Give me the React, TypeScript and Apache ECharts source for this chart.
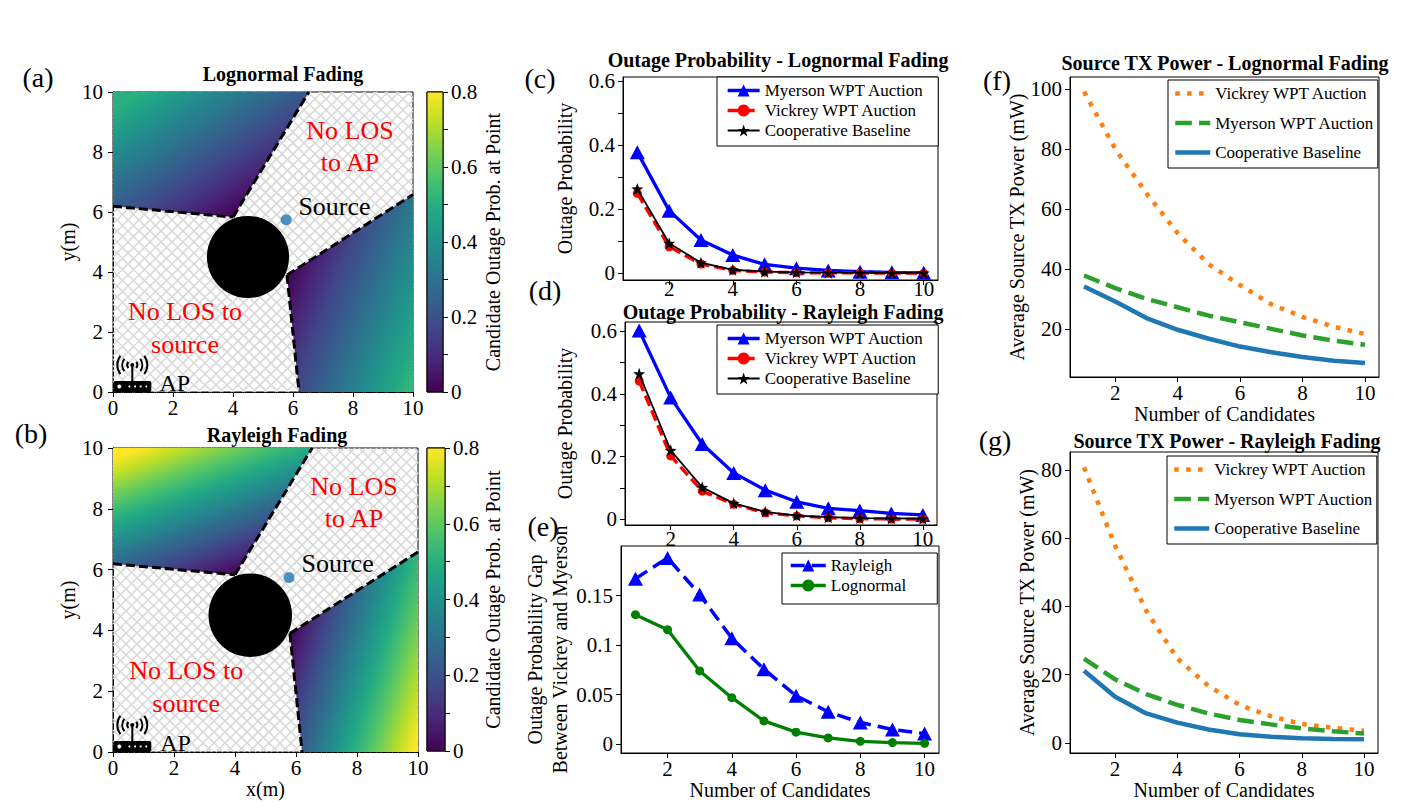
import React, { useEffect, useRef } from "react";
import * as echarts from "echarts";

const SERIF = "'Liberation Serif', 'Times New Roman', serif";

// ---------------- data ----------------
const CANDIDATES = [1, 2, 3, 4, 5, 6, 7, 8, 9, 10];

// (c) outage probability, lognormal fading
const LOGN_MYERSON = [0.379, 0.196, 0.104, 0.057, 0.028, 0.016, 0.009, 0.005, 0.003, 0.002];
const LOGN_VICKREY = [0.25, 0.083, 0.029, 0.009, 0.004, 0.002, 0.001, 0.001, 0.0005, 0.0003];
const LOGN_COOP = [0.264, 0.094, 0.033, 0.011, 0.005, 0.003, 0.002, 0.001, 0.001, 0.001];

// (d) outage probability, Rayleigh fading
const RAY_MYERSON = [0.602, 0.388, 0.24, 0.148, 0.093, 0.056, 0.035, 0.028, 0.019, 0.014];
const RAY_VICKREY = [0.441, 0.202, 0.09, 0.048, 0.021, 0.011, 0.005, 0.002, 0.001, 0.001];
const RAY_COOP = [0.464, 0.22, 0.102, 0.051, 0.024, 0.012, 0.007, 0.004, 0.003, 0.002];

// (e) gap between Vickrey and Myerson
const GAP_RAYLEIGH = [0.167, 0.188, 0.151, 0.107, 0.0757, 0.049, 0.0328, 0.022, 0.0149, 0.0108];
const GAP_LOGNORMAL = [0.1307, 0.1155, 0.074, 0.047, 0.0236, 0.0122, 0.0064, 0.003, 0.0017, 0.001];

// (f) source TX power, lognormal
const PW_LOGN_VICKREY = [99.1, 80.0, 65.2, 51.9, 41.5, 34.6, 28.2, 24.0, 20.7, 18.3];
const PW_LOGN_MYERSON = [37.8, 33.6, 30.0, 27.2, 24.4, 22.2, 20.0, 17.8, 16.1, 14.7];
const PW_LOGN_COOP = [34.1, 29.1, 23.6, 19.7, 16.7, 14.1, 12.2, 10.6, 9.4, 8.6];

// (g) source TX power, Rayleigh
const PW_RAY_VICKREY = [80.8, 57.8, 38.7, 24.7, 16.7, 11.1, 7.8, 5.5, 4.4, 3.5];
const PW_RAY_MYERSON = [24.7, 18.6, 14.3, 11.1, 8.6, 6.7, 5.4, 4.2, 3.4, 2.7];
const PW_RAY_COOP = [21.1, 13.5, 8.6, 5.9, 3.9, 2.5, 1.8, 1.3, 1.1, 1.0];

// tick labels
const X_TICKS = [2, 4, 6, 8, 10];
const OUTAGE_TICKS = [0, 0.2, 0.4, 0.6];
const OUTAGE_TICK_MARKS = [0, 0.1, 0.2, 0.3, 0.4, 0.5, 0.6];
const GAP_TICKS = [0, 0.05, 0.1, 0.15];
const POWER_LOGN_TICKS = [20, 40, 60, 80, 100];
const POWER_RAY_TICKS = [0, 20, 40, 60, 80];

// map geometry (metres)
const OBSTACLE_CENTER = [4.5, 4.5];
const OBSTACLE_RADIUS = 1.37;
const SOURCE_POS = [[5.77, 5.74]];
const AP_ICON_POS = [0.01, 0];
const BOUNDARIES = [
  [[0, 6.19], [4.0, 5.83]],
  [[4.0, 5.83], [6.53, 10]],
  [[5.8, 3.9], [10, 6.58]],
  [[5.8, 3.9], [6.2, 0]],
];
const REGION_UL = [[0, 10], [6.53, 10], [4.0, 5.83], [0, 6.19]];
const REGION_LR = [[5.8, 3.9], [10, 6.58], [10, 0], [6.2, 0]];
const REGIONS = [REGION_UL, REGION_LR];
// candidate outage probability: 0 at the shadow corner, rising to `value` at `to`
const FIELD_LOGN = [
  { from: [4.0, 5.83], to: [1.24, 10.15], value: 0.5 },
  { from: [5.8, 3.9], to: [10.64, 2.1], value: 0.53 },
];
const FIELD_RAY = [
  { from: [4.0, 5.83], to: [2.27, 10.49], value: 0.8 },
  { from: [5.8, 3.9], to: [10.58, 2.44], value: 0.8 },
];
const MAP_TEXTS = [
  { text: "No LOS\nto AP", pos: [7.9, 8.2], color: "#ff0000", align: "center", size: 26, lh: 32 },
  { text: "No LOS to\nsource", pos: [2.4, 2.15], color: "#ff0000", align: "center", size: 26, lh: 33 },
  { text: "Source", pos: [6.18, 6.2], color: "#000000", align: "left", size: 26, lh: 26 },
  { text: "AP", pos: [1.55, 0.3], color: "#000000", align: "left", size: 24, lh: 24 },
];

const VIRIDIS = ["#440154", "#482475", "#414487", "#355f8d", "#2a788e", "#21918c", "#22a884", "#44bf70", "#7ad151", "#bddf26", "#fde725"];
const CBAR_MAX = 0.8;

// ---------------- helpers ----------------
function hexToRgb(h: string) {
  const n = parseInt(h.slice(1), 16);
  return [(n >> 16) & 255, (n >> 8) & 255, n & 255];
}
function viridis(t: number) {
  t = Math.max(0, Math.min(1, t));
  const s = t * (VIRIDIS.length - 1);
  const i = Math.min(Math.floor(s), VIRIDIS.length - 2);
  const f = s - i;
  const a = hexToRgb(VIRIDIS[i]);
  const b = hexToRgb(VIRIDIS[i + 1]);
  const c = a.map((v, k) => Math.round(v + (b[k] - v) * f));
  return `rgb(${c[0]},${c[1]},${c[2]})`;
}
const pairs = (ys: number[]) => CANDIDATES.map((x, i) => [x, ys[i]]);
const fmt = (v: number) => (v === 0 ? "0" : String(+v.toFixed(3)));

const STAR = "path://M0,-10 L2.35,-3.24 L9.51,-3.09 L3.8,1.24 L5.88,8.09 L0,4 L-5.88,8.09 L-3.8,1.24 L-9.51,-3.09 L-2.35,-3.24 Z";
const TICK_FONT = 21;

function axisBase(gridIndex: number) {
  return {
    gridIndex,
    type: "value",
    splitLine: { show: false },
    axisLine: { show: true, onZero: false, lineStyle: { color: "#000", width: 1 } },
    axisTick: { show: true, inside: false, length: 5, lineStyle: { color: "#000", width: 1 } },
    axisLabel: { show: true, color: "#000", fontSize: TICK_FONT, fontFamily: SERIF, margin: 8, formatter: fmt },
    nameTextStyle: { color: "#000", fontSize: 20, fontFamily: SERIF },
  } as any;
}

function mapXAxis(gridIndex: number, name?: string) {
  const a = axisBase(gridIndex);
  a.min = 0; a.max = 10; a.interval = 2;
  a.axisLabel.margin = 5;
  if (name) { a.name = name; a.nameLocation = "middle"; a.nameGap = 21; }
  return a;
}
function mapYAxis(gridIndex: number) {
  const a = axisBase(gridIndex);
  a.min = 0; a.max = 10; a.interval = 2;
  a.axisLabel.margin = 10;
  a.name = "y(m)"; a.nameLocation = "middle"; a.nameGap = 26; a.nameRotate = 90;
  return a;
}
function cbarXAxis(gridIndex: number) {
  return { gridIndex, type: "value", min: 0, max: 1, show: false };
}
function cbarYAxis(gridIndex: number, gap: number) {
  const a = axisBase(gridIndex);
  a.position = "right";
  a.min = 0; a.max = CBAR_MAX; a.interval = 0.2;
  a.axisLine.show = false;
  a.minorTick = { show: true, splitNumber: 2, length: 5, lineStyle: { color: "#000" } };
  a.minorSplitLine = { show: false };
  a.name = "Candidate Outage Prob. at Point"; a.nameLocation = "middle"; a.nameGap = gap; a.nameRotate = 90;
  return a;
}
function candXAxis(gridIndex: number, margin: number, name?: string, gap?: number) {
  const a = axisBase(gridIndex);
  a.min = 0.55; a.max = 10.45;
  a.axisLabel.customValues = X_TICKS;
  a.axisTick.customValues = X_TICKS;
  a.axisLabel.margin = margin;
  if (name) { a.name = name; a.nameLocation = "middle"; a.nameGap = gap; }
  return a;
}
function valYAxis(gridIndex: number, min: number, max: number, labels: number[], ticks: number[], name: string, gap: number) {
  const a = axisBase(gridIndex);
  a.min = min; a.max = max;
  a.axisLabel.customValues = labels;
  a.axisTick.customValues = ticks;
  a.name = name; a.nameLocation = "middle"; a.nameGap = gap; a.nameRotate = 90;
  return a;
}

function mapSeries(ax: number, field: any[]) {
  const base = { type: "custom", coordinateSystem: "cartesian2d", xAxisIndex: ax, yAxisIndex: ax, silent: true };
  return [
    {
      ...base, z: 1, data: [[0, 0]],
      renderItem: (params: any) => {
        const cs = params.coordSys;
        const W = cs.width, H = cs.height, step = 11;
        const st = { stroke: "#d9d9d9", lineWidth: 1.6 };
        const children: any[] = [];
        for (let k = step; k < W + H; k += step) {
          const u1 = Math.max(0, k - H), u2 = Math.min(W, k);
          children.push({ type: "line", shape: { x1: cs.x + u1, y1: cs.y + (k - u1), x2: cs.x + u2, y2: cs.y + (k - u2) }, style: st });
        }
        for (let k = -H + step; k < W; k += step) {
          const u1 = Math.max(0, k), u2 = Math.min(W, H + k);
          children.push({ type: "line", shape: { x1: cs.x + u1, y1: cs.y + (u1 - k), x2: cs.x + u2, y2: cs.y + (u2 - k) }, style: st });
        }
        return { type: "group", children };
      },
    },
    {
      ...base, z: 2, data: REGIONS.map((_, i) => [i, 0]),
      renderItem: (params: any, api: any) => {
        const i = params.dataIndex;
        const pts = REGIONS[i].map((p) => api.coord(p));
        const g = field[i];
        const a = api.coord(g.from), b = api.coord(g.to);
        const stops = [];
        for (let k = 0; k <= 20; k++) {
          const f = k / 20;
          stops.push({ offset: f, color: viridis((f * g.value) / CBAR_MAX) });
        }
        return {
          type: "polygon",
          shape: { points: pts },
          style: { fill: new echarts.graphic.LinearGradient(a[0], a[1], b[0], b[1], stops, true), stroke: null },
        };
      },
    },
    {
      ...base, z: 3, data: BOUNDARIES.map((_, i) => [i, 0]),
      renderItem: (params: any, api: any) => {
        const seg = BOUNDARIES[params.dataIndex];
        return {
          type: "polyline",
          shape: { points: seg.map((p) => api.coord(p)) },
          style: { stroke: "#000", lineWidth: 3, lineDash: [9, 4], fill: null },
        };
      },
    },
    {
      ...base, z: 4, data: [[0, 0]],
      renderItem: (_params: any, api: any) => {
        const c = api.coord(OBSTACLE_CENTER);
        const r = api.size([OBSTACLE_RADIUS, 0])[0];
        return { type: "circle", shape: { cx: c[0], cy: c[1], r }, style: { fill: "#000" } };
      },
    },
    {
      ...base, z: 6, data: [[0, 0]],
      renderItem: (_params: any, api: any) => {
        const o = api.coord(AP_ICON_POS);
        const ox = o[0], oy = o[1];
        const ax = ox + 19, ay = oy - 27;
        const children: any[] = [
          { type: "rect", shape: { x: ox, y: oy - 11, width: 38, height: 11, r: 2 }, style: { fill: "#000" } },
          { type: "circle", shape: { cx: ox + 6, cy: oy - 5.5, r: 2 }, style: { fill: "#fff" } },
          ...[16, 21.7, 27.4, 33].map((dx) => ({ type: "circle", shape: { cx: ox + dx, cy: oy - 5.5, r: 1 }, style: { fill: "#fff" } })),
          { type: "line", shape: { x1: ax, y1: oy - 11, x2: ax, y2: ay }, style: { stroke: "#000", lineWidth: 2 } },
          { type: "circle", shape: { cx: ax, cy: ay, r: 2 }, style: { fill: "#000" } },
        ];
        [5, 10, 15].forEach((r) => {
          children.push({ type: "arc", shape: { cx: ax, cy: ay, r, startAngle: Math.PI - 0.65, endAngle: Math.PI + 0.65, clockwise: true }, style: { stroke: "#000", lineWidth: 2, fill: null } });
          children.push({ type: "arc", shape: { cx: ax, cy: ay, r, startAngle: -0.65, endAngle: 0.65, clockwise: true }, style: { stroke: "#000", lineWidth: 2, fill: null } });
        });
        MAP_TEXTS.forEach((t) => {
          const p = api.coord(t.pos);
          children.push({
            type: "text", x: p[0], y: p[1],
            style: { text: t.text, fill: t.color, font: `${t.size}px ${SERIF}`, align: t.align, verticalAlign: "middle", lineHeight: t.lh },
          });
        });
        return { type: "group", children };
      },
    },
    {
      type: "scatter", xAxisIndex: ax, yAxisIndex: ax, z: 5, silent: true,
      data: SOURCE_POS, symbol: "circle", symbolSize: 11, itemStyle: { color: "#1f77b4" },
    },
  ];
}

function cbarSeries(ax: number) {
  return {
    type: "custom", coordinateSystem: "cartesian2d", xAxisIndex: ax, yAxisIndex: ax, silent: true, data: [[0, 0]],
    renderItem: (_params: any, api: any) => {
      const p0 = api.coord([0, 0]);
      const p1 = api.coord([1, CBAR_MAX]);
      const stops = VIRIDIS.map((c, i) => ({ offset: i / (VIRIDIS.length - 1), color: c }));
      return {
        type: "rect",
        shape: { x: p0[0], y: p1[1], width: p1[0] - p0[0], height: p0[1] - p1[1] },
        style: { fill: new echarts.graphic.LinearGradient(0, 1, 0, 0, stops), stroke: "#000", lineWidth: 1 },
      };
    },
  };
}

function outageSeries(ax: number, prefix: string, my: number[], vi: number[], co: number[]) {
  return [
    {
      name: `${prefix}:Myerson WPT Auction`, type: "line", xAxisIndex: ax, yAxisIndex: ax, data: pairs(my),
      symbol: "triangle", symbolSize: [15, 14], showSymbol: true,
      lineStyle: { color: "#0000ff", width: 3.3 }, itemStyle: { color: "#0000ff" }, z: 2,
    },
    {
      name: `${prefix}:Vickrey WPT Auction`, type: "line", xAxisIndex: ax, yAxisIndex: ax, data: pairs(vi),
      symbol: "circle", symbolSize: 9,
      lineStyle: { color: "#ff0000", width: 3.3, type: [11, 5] }, itemStyle: { color: "#ff0000" }, z: 3,
    },
    {
      name: `${prefix}:Cooperative Baseline`, type: "line", xAxisIndex: ax, yAxisIndex: ax, data: pairs(co),
      symbol: STAR, symbolSize: 12,
      lineStyle: { color: "#000000", width: 1.8 }, itemStyle: { color: "#000000" }, z: 4,
    },
  ];
}

function powerSeries(ax: number, prefix: string, vi: number[], my: number[], co: number[]) {
  return [
    {
      name: `${prefix}:Vickrey WPT Auction`, type: "line", xAxisIndex: ax, yAxisIndex: ax, data: pairs(vi),
      symbol: "none", lineStyle: { color: "#ff7f0e", width: 4.5, type: [4.5, 7.4], cap: "butt" }, itemStyle: { color: "#ff7f0e" },
    },
    {
      name: `${prefix}:Myerson WPT Auction`, type: "line", xAxisIndex: ax, yAxisIndex: ax, data: pairs(my),
      symbol: "none", lineStyle: { color: "#2ca02c", width: 4.5, type: [16.6, 7.2], cap: "butt" }, itemStyle: { color: "#2ca02c" },
    },
    {
      name: `${prefix}:Cooperative Baseline`, type: "line", xAxisIndex: ax, yAxisIndex: ax, data: pairs(co),
      symbol: "none", lineStyle: { color: "#1f77b4", width: 4.5 }, itemStyle: { color: "#1f77b4" },
    },
  ];
}

const legendBase = {
  orient: "vertical",
  align: "left",
  selectedMode: false,
  backgroundColor: "#fff",
  borderColor: "#000",
  borderWidth: 1,
  borderRadius: 0,
  textStyle: { color: "#000", fontSize: 17, fontFamily: SERIF, lineHeight: 19 },
  formatter: (n: string) => n.slice(2),
};

function titleText(text: string, x: number, y: number) {
  return { type: "text", x, y, silent: true, style: { text, fill: "#000", font: `bold 20px ${SERIF}`, align: "center", verticalAlign: "middle" } };
}
function panelLabel(text: string, x: number, y: number) {
  return { type: "text", x, y, silent: true, style: { text, fill: "#000", font: `28px ${SERIF}`, align: "center", verticalAlign: "middle" } };
}

function buildOption() {
  const gridBase = { show: true, borderColor: "#000", borderWidth: 1, backgroundColor: "transparent", containLabel: false, outerBoundsMode: "none" };
  const gapAxis = valYAxis(6, -0.0088, 0.2, GAP_TICKS, GAP_TICKS, "Outage Probability Gap\nBetween Vickrey and Myerson", 27);
  gapAxis.nameTextStyle.lineHeight = 25;
  const cX = candXAxis(4, 1);
  cX.axisLabel.lineHeight = 16;
  return {
    animation: false,
    backgroundColor: "#ffffff",
    grid: [
      { ...gridBase, left: 113, top: 92, width: 300, height: 300 },
      { ...gridBase, left: 427, top: 92, width: 16, height: 300 },
      { ...gridBase, left: 113, top: 448, width: 305, height: 304 },
      { ...gridBase, left: 427, top: 448, width: 18, height: 303 },
      { ...gridBase, left: 623, top: 77, width: 315, height: 203 },
      { ...gridBase, left: 625, top: 322, width: 312, height: 203 },
      { ...gridBase, left: 621, top: 546, width: 318, height: 207 },
      { ...gridBase, left: 1070, top: 77, width: 309, height: 300 },
      { ...gridBase, left: 1070, top: 452, width: 308, height: 301 },
    ],
    xAxis: [
      mapXAxis(0),
      cbarXAxis(1),
      mapXAxis(2, "x(m)"),
      cbarXAxis(3),
      cX,
      candXAxis(5, 3),
      candXAxis(6, 5, "Number of Candidates", 22),
      candXAxis(7, 5, "Number of Candidates", 23),
      candXAxis(8, 5, "Number of Candidates", 27),
    ],
    yAxis: [
      mapYAxis(0),
      cbarYAxis(1, 40),
      mapYAxis(2),
      cbarYAxis(3, 38),
      valYAxis(4, -0.021, 0.614, OUTAGE_TICKS, OUTAGE_TICK_MARKS, "Outage Probability", 48),
      valYAxis(5, -0.018, 0.629, OUTAGE_TICKS, OUTAGE_TICK_MARKS, "Outage Probability", 50),
      gapAxis,
      valYAxis(7, 3.95, 104, POWER_LOGN_TICKS, POWER_LOGN_TICKS, "Average Source TX Power (mW)", 31),
      valYAxis(8, -3, 85.3, POWER_RAY_TICKS, POWER_RAY_TICKS, "Average Source TX Power (mW)", 31),
    ],
    legend: [
      {
        ...legendBase, left: 717, top: 77, padding: [4, 14, 6, 9], itemGap: 1, itemWidth: 32, itemHeight: 15,
        data: [
          { name: "c:Myerson WPT Auction", lineStyle: { width: 3.3 } },
          { name: "c:Vickrey WPT Auction", lineStyle: { width: 3.3 } },
          { name: "c:Cooperative Baseline", lineStyle: { width: 1.8 } },
        ],
      },
      {
        ...legendBase, left: 717, top: 325, padding: [4, 14, 6, 9], itemGap: 1, itemWidth: 32, itemHeight: 15,
        data: [
          { name: "d:Myerson WPT Auction", lineStyle: { width: 3.3 } },
          { name: "d:Vickrey WPT Auction", lineStyle: { width: 3.3 } },
          { name: "d:Cooperative Baseline", lineStyle: { width: 1.8 } },
        ],
      },
      {
        ...legendBase, left: 782, top: 553, padding: [3, 31, 9, 7], itemGap: 1, itemWidth: 35, itemHeight: 15,
        data: [
          { name: "e:Rayleigh", lineStyle: { width: 3.5 } },
          { name: "e:Lognormal", lineStyle: { width: 3.3 } },
        ],
      },
      {
        ...legendBase, left: 1168, top: 80, padding: [4, 3, 6, 5], itemGap: 10.5, itemWidth: 35, itemHeight: 14,
        itemStyle: { opacity: 0 },
        data: [
          { name: "f:Vickrey WPT Auction", lineStyle: { width: 4.5 } },
          { name: "f:Myerson WPT Auction", lineStyle: { width: 4.5 } },
          { name: "f:Cooperative Baseline", lineStyle: { width: 4.5 } },
        ],
      },
      {
        ...legendBase, left: 1167, top: 456, padding: [4, 3, 6, 5], itemGap: 10.5, itemWidth: 35, itemHeight: 14,
        itemStyle: { opacity: 0 },
        data: [
          { name: "g:Vickrey WPT Auction", lineStyle: { width: 4.5 } },
          { name: "g:Myerson WPT Auction", lineStyle: { width: 4.5 } },
          { name: "g:Cooperative Baseline", lineStyle: { width: 4.5 } },
        ],
      },
    ],
    series: [
      ...mapSeries(0, FIELD_LOGN),
      cbarSeries(1),
      ...mapSeries(2, FIELD_RAY),
      cbarSeries(3),
      ...outageSeries(4, "c", LOGN_MYERSON, LOGN_VICKREY, LOGN_COOP),
      ...outageSeries(5, "d", RAY_MYERSON, RAY_VICKREY, RAY_COOP),
      {
        name: "e:Rayleigh", type: "line", xAxisIndex: 6, yAxisIndex: 6, data: pairs(GAP_RAYLEIGH),
        symbol: "triangle", symbolSize: [15, 14],
        lineStyle: { color: "#0000ff", width: 3.5, type: [14, 7] }, itemStyle: { color: "#0000ff" },
      },
      {
        name: "e:Lognormal", type: "line", xAxisIndex: 6, yAxisIndex: 6, data: pairs(GAP_LOGNORMAL),
        symbol: "circle", symbolSize: 9,
        lineStyle: { color: "#008000", width: 3.3 }, itemStyle: { color: "#008000" },
      },
      ...powerSeries(7, "f", PW_LOGN_VICKREY, PW_LOGN_MYERSON, PW_LOGN_COOP),
      ...powerSeries(8, "g", PW_RAY_VICKREY, PW_RAY_MYERSON, PW_RAY_COOP),
    ],
    graphic: [
      titleText("Lognormal Fading", 283, 74),
      titleText("Rayleigh Fading", 277, 435),
      titleText("Outage Probability - Lognormal Fading", 778, 60),
      titleText("Outage Probability - Rayleigh Fading", 783, 312),
      titleText("Source TX Power - Lognormal Fading", 1225, 63),
      titleText("Source TX Power - Rayleigh Fading", 1227, 441),
      panelLabel("(a)", 38, 77),
      panelLabel("(b)", 31, 433),
      panelLabel("(c)", 540, 78),
      panelLabel("(d)", 545, 290),
      panelLabel("(e)", 543, 526),
      panelLabel("(f)", 997, 80),
      panelLabel("(g)", 995, 440),
    ],
  };
}

export default function App() {
  const ref = useRef<HTMLDivElement>(null);
  useEffect(() => {
    if (!ref.current) return;
    const chart = echarts.init(ref.current, null, { renderer: "svg" });
    chart.setOption(buildOption() as any);
    return () => chart.dispose();
  }, []);
  return (
    <div
      ref={ref}
      style={{ position: "absolute", left: 0, top: 0, width: 1423, height: 811, background: "#fff" }}
    />
  );
}
